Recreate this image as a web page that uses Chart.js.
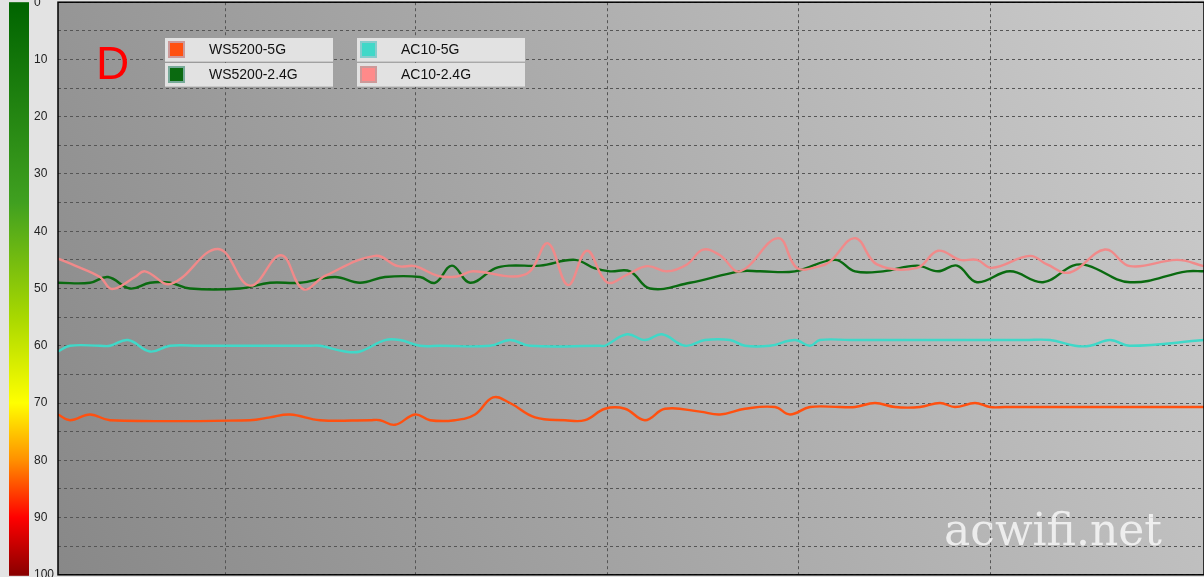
<!DOCTYPE html>
<html>
<head>
<meta charset="utf-8">
<script src="https://cdn.jsdelivr.net/npm/chart.js@4/dist/chart.umd.min.js"></script>
<style>
  body { margin: 0; background: #e3e3e3; font-family: Arial, "Liberation Sans", sans-serif; overflow: hidden; }
  #wrap { position: relative; width: 1204px; height: 577px; overflow: hidden; }
  #c { position: absolute; left: 0; top: -7px; }
  .lg { position: absolute; height: 23px; width: 168px; background: #e2e2e2; border-bottom: 1px solid #c8c8c8; font-size: 14px; color: #111; }
  .lg span.sw { position: absolute; left: 3px; top: 3px; width: 13px; height: 13px; border: 2px solid #c99; }
  .lg span.tx { position: absolute; left: 44px; top: 3px; }
  #mark { position: absolute; left: 96px; top: 36px; color: #f00; font-size: 46px; }
  #wm { position: absolute; left: 944px; top: 504px; color: rgba(255,255,255,0.75); font-family: "DejaVu Serif", serif; font-size: 44px; }
</style>
</head>
<body>
<div id="wrap">
  <canvas id="c" width="1204" height="591"></canvas>
  <div id="mark">D</div>
  <div class="lg" style="left:165px;top:38px"><span class="sw" style="background:#ff5010"></span><span class="tx">WS5200-5G</span></div>
  <div class="lg" style="left:165px;top:63px"><span class="sw" style="background:#0a6a10;border-color:#7a9"></span><span class="tx">WS5200-2.4G</span></div>
  <div class="lg" style="left:357px;top:38px"><span class="sw" style="background:#40d8c8;border-color:#8cc"></span><span class="tx">AC10-5G</span></div>
  <div class="lg" style="left:357px;top:63px"><span class="sw" style="background:#ff8a8a"></span><span class="tx">AC10-2.4G</span></div>
  <div id="wm">acwifi.net</div>
</div>
<script>
// 数据（横轴为采样位置，纵轴为信号值 0-100）
const xOrange = [0, 12, 32, 52, 192, 212, 232, 262, 312, 322, 337, 357, 372, 397, 417, 435, 452, 477, 507, 527, 547, 567, 587, 607, 642, 662, 687, 717, 732, 752, 782, 797, 817, 837, 862, 882, 897, 917, 932, 947, 1146];
const vOrange = [72, 73, 72, 73, 73, 72.5, 72, 73, 73, 73, 73.8, 72, 73, 73, 72, 69, 70, 72.5, 73, 73, 71, 71, 73, 71, 71.5, 72, 71, 70.7, 72, 70.7, 70.7, 70.7, 70, 70.7, 70.7, 70, 70.7, 70, 70.7, 70.7, 70.7];

const xGreen = [0, 32, 50, 72, 92, 112, 132, 182, 212, 242, 277, 302, 327, 362, 377, 394, 412, 437, 452, 482, 517, 537, 552, 572, 592, 632, 682, 702, 737, 777, 797, 825, 859, 880, 899, 919, 952, 985, 1015, 1030, 1072, 1129, 1146];
const vGreen = [49, 49, 48, 50, 49, 49, 50, 50, 49, 49, 48, 49, 48, 48, 49, 46, 49, 46.5, 46, 46, 45, 46.5, 47, 47, 50, 49, 47, 47, 47, 45, 47, 47, 46, 47, 46, 48.9, 47, 48.9, 46, 46, 48.9, 47, 47];

const xCyan = [0, 12, 42, 52, 70, 92, 112, 142, 252, 262, 287, 302, 327, 342, 362, 382, 432, 452, 472, 542, 547, 569, 587, 604, 627, 647, 672, 687, 712, 737, 752, 762, 792, 967, 992, 1017, 1032, 1052, 1072, 1146];
const vCyan = [61, 60, 60, 60, 59, 61, 60, 60, 60, 60, 61, 61, 59, 59, 60, 60, 60, 59, 60, 60, 60, 58, 59, 58, 60, 59, 59, 60, 60, 59, 60, 59, 59, 59, 59, 60, 60, 59, 60, 59];

const xPink = [0, 17, 42, 54, 77, 87, 113, 160, 192, 223, 245, 267, 317, 340, 357, 380, 399, 415, 455, 472, 490, 510, 529, 549, 569, 589, 609, 629, 645, 662, 682, 720, 739, 762, 772, 797, 819, 859, 880, 902, 919, 934, 972, 989, 1012, 1047, 1072, 1119, 1146];
const vPink = [44.8, 46, 48, 50.1, 48, 47, 49.2, 43.1, 49.5, 44.2, 50.1, 47.8, 44.3, 46.1, 46.1, 47.8, 47.9, 47, 47.9, 47, 42.1, 49.4, 43.4, 48.9, 47.6, 46.1, 47, 45.8, 43.2, 44.2, 47, 41.2, 46.4, 46.1, 45.3, 41.2, 45.8, 46.4, 43.4, 45, 45, 46.4, 44.3, 45.8, 47.2, 43.2, 46.1, 45, 46.1];

const yTicks = [0, 10, 20, 30, 40, 50, 60, 70, 80, 90, 100];
const xGrid = [167, 357, 549, 740, 932];

function pts(xs, vs) { return xs.map((x, i) => ({ x: x, y: vs[i] })); }

const bgPlugin = {
  id: 'bg',
  beforeDraw(chart) {
    const { ctx, chartArea: a } = chart;
    ctx.save();
    const g = ctx.createLinearGradient(a.left, a.bottom, a.right, a.top);
    g.addColorStop(0, '#888888');
    g.addColorStop(1, '#cdcdcd');
    ctx.fillStyle = g;
    ctx.fillRect(a.left, a.top, a.right - a.left, a.bottom - a.top);
    // 左侧颜色条
    const cb = ctx.createLinearGradient(0, a.top, 0, a.bottom);
    cb.addColorStop(0, '#006400');
    cb.addColorStop(0.35, '#40a020');
    cb.addColorStop(0.55, '#a8d800');
    cb.addColorStop(0.7, '#ffff00');
    cb.addColorStop(0.8, '#ff9000');
    cb.addColorStop(0.9, '#ff0000');
    cb.addColorStop(1, '#8a0000');
    ctx.fillStyle = cb;
    ctx.fillRect(9, a.top, 20, a.bottom - a.top + 1);
    ctx.restore();
  },
  afterDraw(chart) {
    const { ctx, chartArea: a } = chart;
    ctx.save();
    ctx.strokeStyle = '#000';
    ctx.lineWidth = 1.5;
    ctx.strokeRect(a.left, a.top, a.right - a.left, a.bottom - a.top);
    ctx.restore();
  }
};

const ds = (label, data, color) => ({
  label, data, borderColor: color, borderWidth: 2.4, pointRadius: 0, tension: 0.4, fill: false
});

new Chart(document.getElementById('c'), {
  type: 'line',
  data: {
    datasets: [
      ds('AC10-2.4G', pts(xPink, vPink), '#f08a8a'),
      ds('WS5200-2.4G', pts(xGreen, vGreen), '#0a6a10'),
      ds('AC10-5G', pts(xCyan, vCyan), '#40d8c8'),
      ds('WS5200-5G', pts(xOrange, vOrange), '#ff5010')
    ]
  },
  options: {
    responsive: false,
    animation: false,
    layout: { padding: { left: 34, top: 0, right: 0, bottom: 0 } },
    plugins: { legend: { display: false }, tooltip: { enabled: false } },
    scales: {
      x: {
        type: 'linear', min: 0, max: 1146,
        afterBuildTicks(s) { s.ticks = xGrid.map(v => ({ value: v })); },
        ticks: { display: false },
        grid: { color: '#555', lineWidth: 1, drawTicks: false },
        border: { display: false, dash: [3, 3] }
      },
      y: {
        reverse: true, min: 0, max: 100,
        afterFit(s) { s.width = 24; },
        ticks: {
          stepSize: 5, padding: 2, crossAlign: 'far',
          color: '#222', font: { family: 'Arial', size: 12 },
          callback: v => (yTicks.includes(v) ? String(v) : '')
        },
        grid: { color: '#555', lineWidth: 1, drawTicks: false },
        border: { display: false, dash: [3, 3] }
      }
    }
  },
  plugins: [bgPlugin]
});
</script>
</body>
</html>
